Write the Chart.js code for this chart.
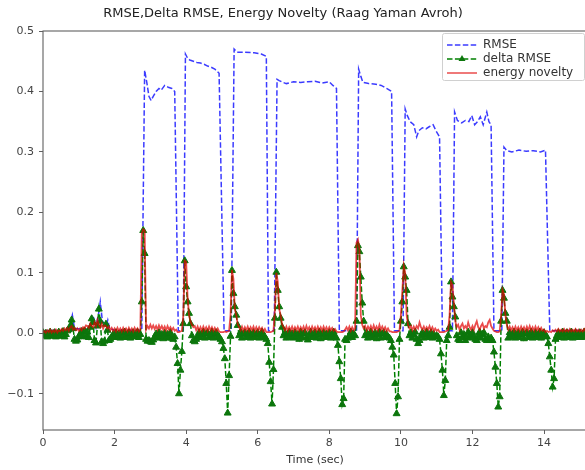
<!DOCTYPE html>
<html>
<head>
<meta charset="utf-8">
<script src="https://cdn.jsdelivr.net/npm/chart.js@4.4.1/dist/chart.umd.min.js"></script>
<style>
  html, body { margin: 0; padding: 0; background: #ffffff; overflow: hidden; }
  #wrap { width: 592px; height: 470px; }
</style>
</head>
<body>
<div id="wrap"><canvas id="chart" width="592" height="470"></canvas></div>
<script>
// Analysis frames are 0.04 s apart; each row below is one second of frames.
const FRAME_STEP = 0.04;

const deltaRmse = [
  0.001, -0.004, 0.000, -0.006, -0.001, 0.002, -0.005, -0.002, 0.001, -0.006, -0.001, 0.002, -0.005, 0.000, 0.003, -0.006, -0.002, 0.004, 0.006, 0.012, 0.022, 0.008, -0.010, -0.013, -0.011,
  -0.006, -0.001, 0.003, -0.005, 0.004, -0.006, 0.002, -0.007, 0.010, 0.024, 0.018, -0.012, -0.016, 0.012, 0.040, 0.020, -0.014, -0.017, -0.013, 0.015, 0.005, -0.012, -0.010, -0.006, -0.002,
  -0.007, 0.001, -0.006, -0.001, -0.008, 0.000, -0.005, 0.002, -0.007, -0.002, 0.001, -0.008, -0.003, 0.001, -0.006, -0.002, 0.002, -0.007, -0.002, 0.052, 0.170, 0.132, -0.010, -0.013, -0.012,
  -0.014, -0.015, -0.011, -0.006, -0.001, -0.008, 0.001, -0.006, -0.002, -0.009, 0.000, -0.007, -0.002, -0.008, 0.001, -0.008, -0.010, -0.006, -0.023, -0.050, -0.100, -0.061, -0.030, 0.016, 0.120,
  0.077, 0.052, 0.033, 0.016, -0.004, -0.012, -0.014, -0.010, -0.005, 0.001, -0.007, -0.002, 0.002, -0.008, -0.001, 0.001, -0.007, -0.003, 0.002, -0.008, -0.002, 0.001, -0.007, -0.006, -0.010,
  -0.014, -0.025, -0.042, -0.083, -0.132, -0.070, -0.005, 0.104, 0.066, 0.044, 0.030, 0.013, -0.004, 0.002, -0.008, -0.001, 0.001, -0.007, -0.002, 0.002, -0.008, -0.003, 0.001, -0.007, -0.002,
  0.001, -0.008, -0.002, 0.002, -0.007, -0.006, -0.010, -0.017, -0.048, -0.080, -0.117, -0.060, 0.025, 0.101, 0.071, 0.044, 0.025, 0.010, -0.004, 0.001, -0.008, -0.002, 0.002, -0.007, -0.001,
  -0.008, 0.001, -0.006, -0.002, -0.010, 0.002, -0.007, -0.001, 0.001, -0.008, -0.011, -0.004, 0.002, -0.007, -0.002, 0.001, -0.008, -0.003, 0.002, -0.009, -0.002, 0.001, -0.007, -0.001, -0.006,
  0.001, -0.008, -0.002, 0.002, -0.006, -0.008, -0.020, -0.047, -0.075, -0.118, -0.108, -0.010, -0.012, -0.008, -0.004, 0.002, -0.007, -0.001, -0.004, 0.020, 0.145, 0.135, 0.093, 0.050, 0.020,
  -0.004, 0.001, -0.008, -0.002, 0.002, -0.007, -0.003, 0.001, -0.009, -0.002, 0.002, -0.008, -0.001, 0.001, -0.007, -0.002, -0.006, -0.008, -0.012, -0.023, -0.036, -0.083, -0.133, -0.105, -0.010,
  0.020, 0.052, 0.110, 0.093, 0.071, 0.016, -0.004, 0.001, -0.008, -0.002, 0.002, -0.010, -0.017, -0.012, -0.004, 0.001, -0.008, -0.002, 0.002, -0.007, -0.003, 0.001, -0.008, -0.002, -0.006,
  -0.004, -0.006, -0.010, -0.034, -0.061, -0.103, -0.078, -0.012, -0.004, 0.010, 0.085, 0.060, 0.044, 0.027, -0.004, -0.010, -0.012, 0.001, -0.007, -0.002, -0.012, -0.006, 0.002, -0.008, -0.003,
  0.001, -0.007, -0.010, -0.012, -0.004, 0.002, -0.008, -0.002, 0.001, -0.010, -0.012, -0.006, -0.012, -0.008, -0.012, -0.031, -0.056, -0.083, -0.122, -0.105, 0.020, 0.071, 0.058, 0.033, 0.020,
  -0.008, 0.001, -0.006, -0.002, 0.002, -0.008, -0.003, 0.001, -0.007, -0.002, 0.002, -0.009, -0.001, 0.001, -0.007, -0.002, 0.002, -0.008, -0.003, 0.001, -0.007, -0.002, 0.002, -0.008, -0.001,
  0.001, -0.004, -0.006, -0.017, -0.039, -0.061, -0.089, -0.075, -0.010, -0.004, 0.001, -0.007, -0.002, 0.002, -0.008, -0.001, 0.001, -0.007, -0.003, 0.002, -0.008, -0.002, 0.001, -0.007, -0.002,
  0.001, -0.007, -0.002, 0.002, -0.006, -0.001
];

const energyNovelty = [
  0.001, 0.004, 0.001, 0.005, 0.002, 0.006, 0.001, 0.005, 0.002, 0.006, 0.001, 0.005, 0.003, 0.007, 0.004, 0.008, 0.005, 0.009, 0.004, 0.010, 0.012, 0.006, 0.009, 0.005, 0.008,
  0.004, 0.008, 0.005, 0.010, 0.008, 0.013, 0.012, 0.009, 0.016, 0.012, 0.010, 0.018, 0.012, 0.022, 0.014, 0.010, 0.016, 0.008, 0.013, 0.012, 0.008, 0.011, 0.005, 0.009, 0.004,
  0.008, 0.003, 0.009, 0.004, 0.008, 0.003, 0.009, 0.004, 0.008, 0.003, 0.009, 0.004, 0.008, 0.003, 0.009, 0.004, 0.008, 0.003, 0.006, 0.165, 0.172, 0.170, 0.006, 0.012, 0.008,
  0.014, 0.008, 0.013, 0.007, 0.012, 0.006, 0.013, 0.007, 0.012, 0.006, 0.011, 0.005, 0.012, 0.006, 0.010, 0.005, 0.009, 0.004, 0.006, 0.002, 0.002, 0.003, 0.004, 0.030, 0.120,
  0.118, 0.060, 0.030, 0.020, 0.014, 0.010, 0.012, 0.005, 0.011, 0.004, 0.010, 0.004, 0.011, 0.005, 0.010, 0.004, 0.011, 0.005, 0.010, 0.004, 0.009, 0.004, 0.008, 0.003, 0.002,
  0.002, 0.002, 0.003, 0.002, 0.003, 0.004, 0.030, 0.105, 0.090, 0.040, 0.030, 0.015, 0.010, 0.005, 0.011, 0.004, 0.010, 0.005, 0.011, 0.004, 0.010, 0.005, 0.011, 0.004, 0.010,
  0.004, 0.010, 0.005, 0.009, 0.003, 0.007, 0.002, 0.002, 0.002, 0.002, 0.003, 0.004, 0.040, 0.100, 0.085, 0.040, 0.030, 0.015, 0.010, 0.005, 0.011, 0.004, 0.010, 0.005, 0.011,
  0.004, 0.010, 0.005, 0.011, 0.004, 0.010, 0.005, 0.011, 0.004, 0.012, 0.005, 0.010, 0.004, 0.011, 0.005, 0.010, 0.004, 0.011, 0.005, 0.010, 0.004, 0.011, 0.005, 0.010, 0.004,
  0.010, 0.005, 0.009, 0.004, 0.007, 0.003, 0.002, 0.002, 0.002, 0.002, 0.003, 0.006, 0.010, 0.005, 0.011, 0.004, 0.010, 0.005, 0.008, 0.150, 0.155, 0.140, 0.030, 0.014, 0.008,
  0.012, 0.005, 0.011, 0.006, 0.012, 0.005, 0.013, 0.006, 0.011, 0.005, 0.014, 0.006, 0.011, 0.005, 0.010, 0.004, 0.008, 0.003, 0.003, 0.002, 0.002, 0.002, 0.002, 0.003, 0.004,
  0.030, 0.070, 0.112, 0.100, 0.030, 0.014, 0.008, 0.012, 0.005, 0.011, 0.006, 0.012, 0.008, 0.018, 0.010, 0.006, 0.011, 0.005, 0.010, 0.006, 0.012, 0.005, 0.010, 0.004, 0.008,
  0.004, 0.006, 0.002, 0.002, 0.002, 0.002, 0.003, 0.004, 0.005, 0.030, 0.085, 0.080, 0.050, 0.020, 0.010, 0.014, 0.006, 0.012, 0.016, 0.008, 0.012, 0.008, 0.018, 0.010, 0.006,
  0.012, 0.006, 0.014, 0.020, 0.010, 0.006, 0.012, 0.016, 0.008, 0.012, 0.010, 0.018, 0.022, 0.012, 0.008, 0.004, 0.003, 0.002, 0.002, 0.003, 0.030, 0.072, 0.065, 0.030, 0.014,
  0.006, 0.011, 0.005, 0.010, 0.004, 0.011, 0.005, 0.010, 0.004, 0.011, 0.005, 0.010, 0.004, 0.011, 0.005, 0.012, 0.005, 0.010, 0.004, 0.011, 0.005, 0.010, 0.004, 0.009, 0.004,
  0.006, 0.002, 0.004, 0.002, 0.003, 0.002, 0.005, 0.003, 0.006, 0.003, 0.007, 0.003, 0.006, 0.003, 0.007, 0.003, 0.006, 0.003, 0.007, 0.003, 0.006, 0.003, 0.007, 0.003, 0.006,
  0.003, 0.006, 0.003, 0.007, 0.003, 0.006
];

// RMSE envelope: breakpoints (s) and levels
const rmseTime = [
  0, 0.36, 0.70, 0.76, 0.82, 0.88, 1.30, 1.36, 1.42, 1.48, 1.56, 1.60, 1.66, 1.76, 1.81, 1.86, 2.00,
  2.76, 2.84, 2.90, 2.96, 3.02, 3.08, 3.16, 3.24, 3.30, 3.40, 3.50, 3.60, 3.68, 3.78,
  3.92, 3.98, 4.04, 4.10, 4.20, 4.30, 4.40, 4.50, 4.60, 4.70, 4.80, 4.92, 5.06,
  5.26, 5.34, 5.42, 5.60, 5.90, 6.10, 6.24, 6.30,
  6.46, 6.54, 6.60, 6.70, 6.80, 7.00, 7.20, 7.40, 7.60, 7.80, 8.00, 8.10, 8.20, 8.28,
  8.76, 8.82, 8.88, 8.94, 9.10, 9.30, 9.45, 9.60, 9.74, 9.82,
  10.06, 10.12, 10.18, 10.26, 10.36, 10.44, 10.50, 10.60, 10.70, 10.80, 10.90, 10.98, 11.08, 11.16,
  11.44, 11.50, 11.58, 11.70, 11.80, 11.90, 11.98, 12.06, 12.14, 12.22, 12.30, 12.40, 12.46, 12.52, 12.60,
  12.82, 12.88, 12.96, 13.10, 13.30, 13.50, 13.70, 13.90, 14.04, 14.16, 15.20
];
const rmse = [
  0.004, 0.005, 0.004, 0.015, 0.030, 0.008, 0.006, 0.030, 0.025, 0.010, 0.035, 0.052, 0.020, 0.012, 0.022, 0.008, 0.005,
  0.005, 0.435, 0.415, 0.392, 0.385, 0.392, 0.400, 0.405, 0.402, 0.410, 0.407, 0.405, 0.400, 0.004,
  0.004, 0.462, 0.455, 0.452, 0.450, 0.448, 0.447, 0.445, 0.442, 0.440, 0.437, 0.430, 0.004,
  0.004, 0.470, 0.465, 0.465, 0.464, 0.462, 0.458, 0.004,
  0.004, 0.420, 0.418, 0.415, 0.413, 0.416, 0.415, 0.416, 0.417, 0.414, 0.416, 0.410, 0.405, 0.004,
  0.004, 0.437, 0.425, 0.415, 0.413, 0.412, 0.410, 0.405, 0.400, 0.004,
  0.004, 0.371, 0.360, 0.350, 0.345, 0.325, 0.335, 0.340, 0.338, 0.342, 0.345, 0.335, 0.325, 0.004,
  0.004, 0.366, 0.352, 0.348, 0.352, 0.350, 0.360, 0.345, 0.350, 0.358, 0.345, 0.366, 0.350, 0.345, 0.004,
  0.004, 0.308, 0.302, 0.300, 0.303, 0.301, 0.302, 0.300, 0.303, 0.004, 0.005
];

const xTickStep = 2;
const yTickStep = 0.1;
const chartTitle = 'RMSE,Delta RMSE, Energy Novelty (Raag Yaman Avroh)';
const xLabel = 'Time (sec)';
const seriesNames = ['RMSE', 'delta RMSE', 'energy novelty'];

const frameTimes = deltaRmse.map((_, i) => Math.round(i * FRAME_STEP * 100) / 100);
const toPoints = (xs, ys) => ys.map((y, i) => ({ x: xs[i], y: y }));

const BLUE = 'rgba(25,25,255,0.85)';
const GREEN = '#008000';
const MARKER = '#0c760c';
const RED = 'rgba(225,0,0,0.7)';
const DASH = [5.5, 2.4];
const FONT = '"DejaVu Sans", sans-serif';

// axes box drawn on top of the lines, as spines
const frameBox = {
  id: 'frameBox',
  afterDatasetsDraw(chart) {
    const { ctx, chartArea: a } = chart;
    ctx.save();
    ctx.strokeStyle = '#606060';
    ctx.lineWidth = 1.1;
    ctx.strokeRect(a.left, a.top, a.right - a.left, a.bottom - a.top);
    ctx.restore();
  }
};

const titleText = {
  id: 'titleText',
  afterDraw(chart) {
    const ctx = chart.ctx;
    ctx.save();
    ctx.font = '13px ' + FONT;
    ctx.fillStyle = '#222';
    ctx.textAlign = 'center';
    ctx.textBaseline = 'middle';
    ctx.fillText(chartTitle, 283, 14);
    ctx.restore();
  }
};

const legendBox = {
  id: 'legendBox',
  afterDraw(chart) {
    const ctx = chart.ctx;
    const x0 = 442, y0 = 33, w = 142, h = 47;
    ctx.save();
    ctx.fillStyle = 'rgba(255,255,255,0.85)';
    ctx.strokeStyle = '#d0d0d0';
    ctx.lineWidth = 1;
    ctx.beginPath();
    ctx.roundRect(x0 + 0.5, y0 + 0.5, w, h, 2);
    ctx.fill();
    ctx.stroke();
    const rows = [45, 59, 73];
    const styles = [
      { color: BLUE, dash: DASH, marker: false },
      { color: GREEN, dash: DASH, marker: true },
      { color: RED, dash: [], marker: false }
    ];
    ctx.font = '12px ' + FONT;
    ctx.textBaseline = 'middle';
    rows.forEach((y, i) => {
      const s = styles[i];
      ctx.strokeStyle = s.color;
      ctx.lineWidth = 1.5;
      ctx.setLineDash(s.dash);
      ctx.beginPath();
      ctx.moveTo(447, y);
      ctx.lineTo(477, y);
      ctx.stroke();
      ctx.setLineDash([]);
      if (s.marker) {
        ctx.fillStyle = MARKER;
        ctx.beginPath();
        ctx.moveTo(462, y - 4);
        ctx.lineTo(465.5, y + 2);
        ctx.lineTo(458.5, y + 2);
        ctx.closePath();
        ctx.fill();
      }
      ctx.fillStyle = '#333';
      ctx.fillText(seriesNames[i], 483, y);
    });
    ctx.restore();
  }
};

const fmtY = v => {
  const r = Math.round(v * 10) / 10;
  return (r < 0 ? '\u2212' : '') + Math.abs(r).toFixed(1);
};

new Chart(document.getElementById('chart'), {
  type: 'line',
  data: {
    datasets: [
      {
        label: seriesNames[0],
        data: toPoints(rmseTime, rmse),
        borderColor: BLUE,
        borderWidth: 1.5,
        borderDash: DASH,
        pointRadius: 0,
        tension: 0,
        order: 3
      },
      {
        label: seriesNames[1],
        data: toPoints(frameTimes, deltaRmse),
        borderColor: GREEN,
        borderWidth: 1.5,
        borderDash: DASH,
        pointStyle: 'triangle',
        pointRadius: 4,
        pointBackgroundColor: MARKER,
        pointBorderColor: MARKER,
        pointBorderWidth: 1,
        tension: 0,
        order: 2
      },
      {
        label: seriesNames[2],
        data: toPoints(frameTimes, energyNovelty),
        borderColor: RED,
        borderWidth: 1.8,
        pointRadius: 0,
        tension: 0,
        order: 1
      }
    ]
  },
  options: {
    responsive: false,
    animation: false,
    events: [],
    layout: { padding: { left: 0, right: 3, top: 31, bottom: 0 } },
    plugins: {
      legend: { display: false },
      tooltip: { enabled: false },
      title: { display: false }
    },
    scales: {
      x: {
        type: 'linear',
        min: 0,
        max: 15.2,
        afterFit: s => { s.height = 40; },
        border: { display: false },
        grid: { drawOnChartArea: false, drawTicks: true, tickLength: 4, color: '#606060' },
        ticks: {
          stepSize: xTickStep,
          includeBounds: false,
          autoSkip: false,
          maxRotation: 0,
          padding: 3,
          color: '#444',
          font: { family: FONT, size: 11 },
          callback: v => String(v)
        },
        title: {
          display: true,
          text: xLabel,
          color: '#333',
          font: { family: FONT, size: 11 },
          padding: { top: 0, bottom: 3 }
        }
      },
      y: {
        type: 'linear',
        min: -0.16,
        max: 0.5,
        afterFit: s => { s.width = 43; },
        border: { display: false },
        grid: { drawOnChartArea: false, drawTicks: true, tickLength: 4, color: '#606060' },
        ticks: {
          stepSize: yTickStep,
          includeBounds: false,
          autoSkip: false,
          padding: 5,
          color: '#444',
          font: { family: FONT, size: 11 },
          callback: fmtY
        }
      }
    }
  },
  plugins: [frameBox, titleText, legendBox]
});
</script>
</body>
</html>
